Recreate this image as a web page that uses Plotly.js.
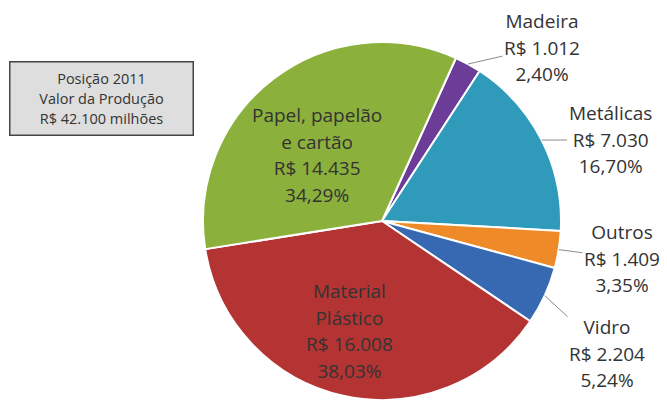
<!DOCTYPE html>
<html>
<head>
<meta charset="utf-8">
<script src="https://cdn.plot.ly/plotly-3.0.1.min.js"></script>
<style>html,body{margin:0;padding:0;background:#fff;}#chart{width:667px;height:401px;}</style>
</head>
<body>
<div id="chart"></div>
<script>
// ---- data ----
const labels = ['Madeira', 'Metálicas', 'Outros', 'Vidro', 'Material Plástico', 'Papel, papelão e cartão'];
const labelLines = [['Madeira'], ['Metálicas'], ['Outros'], ['Vidro'], ['Material', 'Plástico'], ['Papel, papelão', 'e cartão']];
const values = [1012, 7030, 1409, 2204, 16008, 14435];
const colors = ['#6c3d98', '#2f9aba', '#ee8a27', '#3769b2', '#b43333', '#8bb03b'];
const boxLines = ['Posição 2011', 'Valor da Produção', 'R$ 42.100 milhões'];

// ---- layout constants ----
const W = 667, H = 401;
const cx = 382, cy = 221, R = 179;
const rotation = 24.4;
const outside = [true, true, true, true, false, false];
const labelPos = [[542, 47], [610, 140], [622, 258], [607, 353], [350, 331], [317, 155]];
const FONT = '"Open Sans", sans-serif';

function fmtThousands(v) {
  return String(v).replace(/\B(?=(\d{3})+(?!\d))/g, '.');
}
const total = values.reduce((a, b) => a + b, 0);
function fmtPct(v) {
  return (v / total * 100).toFixed(2).replace('.', ',') + '%';
}
function wrap(lines, size) {
  return lines.map(l => '<span style="font-size:' + size + 'px">' + l + '</span>').join('<br>');
}

const trace = {
  type: 'pie',
  labels: labels,
  values: values,
  sort: false,
  direction: 'clockwise',
  rotation: rotation,
  textinfo: 'none',
  hoverinfo: 'label+value+percent',
  marker: { colors: colors, line: { color: '#ffffff', width: 2 } },
  domain: { x: [(cx - R) / W, (cx + R) / W], y: [1 - (cy + R) / H, 1 - (cy - R) / H] },
  showlegend: false
};

const annotations = [];
let cum = 0;
values.forEach((v, i) => {
  const span = v / total * 360;
  const mid = (rotation + cum + span / 2) * Math.PI / 180;
  cum += span;
  const txt = wrap(labelLines[i].concat(['R$ ' + fmtThousands(v), fmtPct(v)]), 19);
  const [lx, ly] = labelPos[i];
  if (outside[i]) {
    const hx = cx + R * Math.sin(mid);
    const hy = cy - R * Math.cos(mid);
    annotations.push({
      xref: 'paper', yref: 'paper',
      x: hx / W, y: 1 - hy / H,
      ax: lx - hx, ay: ly - hy,
      showarrow: true, arrowhead: 0, arrowwidth: 1, arrowcolor: '#8c8c8c', standoff: 0,
      text: txt,
      font: { family: FONT, size: 20.5, color: '#333333' }
    });
  } else {
    annotations.push({
      xref: 'paper', yref: 'paper',
      x: lx / W, y: 1 - ly / H, xanchor: 'center', yanchor: 'middle',
      showarrow: false,
      text: txt,
      font: { family: FONT, size: 20.5, color: '#333333' }
    });
  }
});

annotations.push({
  xref: 'paper', yref: 'paper',
  x: (9 + 194) / 2 / W, y: 1 - 98.5 / H, xanchor: 'center', yanchor: 'middle',
  showarrow: false,
  text: wrap(boxLines, 14.5),
  width: 182, height: 72, borderpad: 0,
  bgcolor: '#dedede', bordercolor: '#454545', borderwidth: 1.5,
  font: { family: FONT, size: 15.7, color: '#333333' }
});

const layout = {
  width: W, height: H,
  margin: { l: 0, r: 0, t: 0, b: 0 },
  paper_bgcolor: '#ffffff',
  plot_bgcolor: '#ffffff',
  annotations: annotations
};

Plotly.newPlot('chart', [trace], layout, { displayModeBar: false, staticPlot: true });
</script>
</body>
</html>
